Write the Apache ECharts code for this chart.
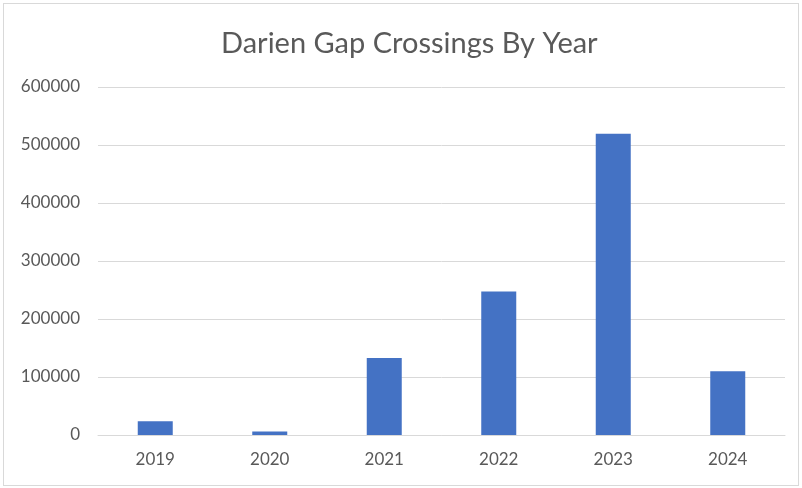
<!DOCTYPE html>
<html>
<head>
<meta charset="utf-8">
<script src="https://cdn.jsdelivr.net/npm/echarts@6/dist/echarts.min.js"></script>
<style>
  html, body { margin: 0; padding: 0; background: #fff; }
  #frame { position: absolute; left: 3px; top: 3px; width: 796px; height: 483px; border: 1px solid #d9d9d9; box-sizing: border-box; }
  #chart { position: absolute; left: 0; top: 0; width: 802px; height: 488px; }
</style>
</head>
<body>
<div id="frame"></div>
<div id="chart"></div>
<script>
// Annual crossings through the Darien Gap
const years = ['2019', '2020', '2021', '2022', '2023', '2024'];
const crossings = [23500, 6200, 132600, 247500, 519500, 110000];

const chart = echarts.init(document.getElementById('chart'));
chart.setOption({
  animation: false,
  title: {
    text: 'Darien Gap Crossings By Year',
    left: 216,
    top: 24,
    textStyle: { fontFamily: 'Lato', fontSize: 29, fontWeight: 'normal', color: '#595959' }
  },
  grid: { left: 98, right: 17, top: 87, bottom: 53, containLabel: false },
  xAxis: {
    type: 'category',
    data: years,
    axisLine: { lineStyle: { color: '#d9d9d9', width: 1 } },
    axisTick: { show: false },
    axisLabel: { fontFamily: 'Lato', fontSize: 17, color: '#595959', margin: 16 }
  },
  yAxis: {
    type: 'value',
    min: 0,
    max: 600000,
    interval: 100000,
    axisLine: { show: false },
    axisTick: { show: false },
    splitLine: { lineStyle: { color: '#d9d9d9', width: 1 } },
    axisLabel: {
      fontFamily: 'Lato', fontSize: 17, color: '#595959', margin: 18,
      formatter: (v) => String(v)
    }
  },
  series: [{
    type: 'bar',
    data: crossings,
    barWidth: 35,
    itemStyle: { color: '#4472c4' }
  }]
});
</script>
</body>
</html>
